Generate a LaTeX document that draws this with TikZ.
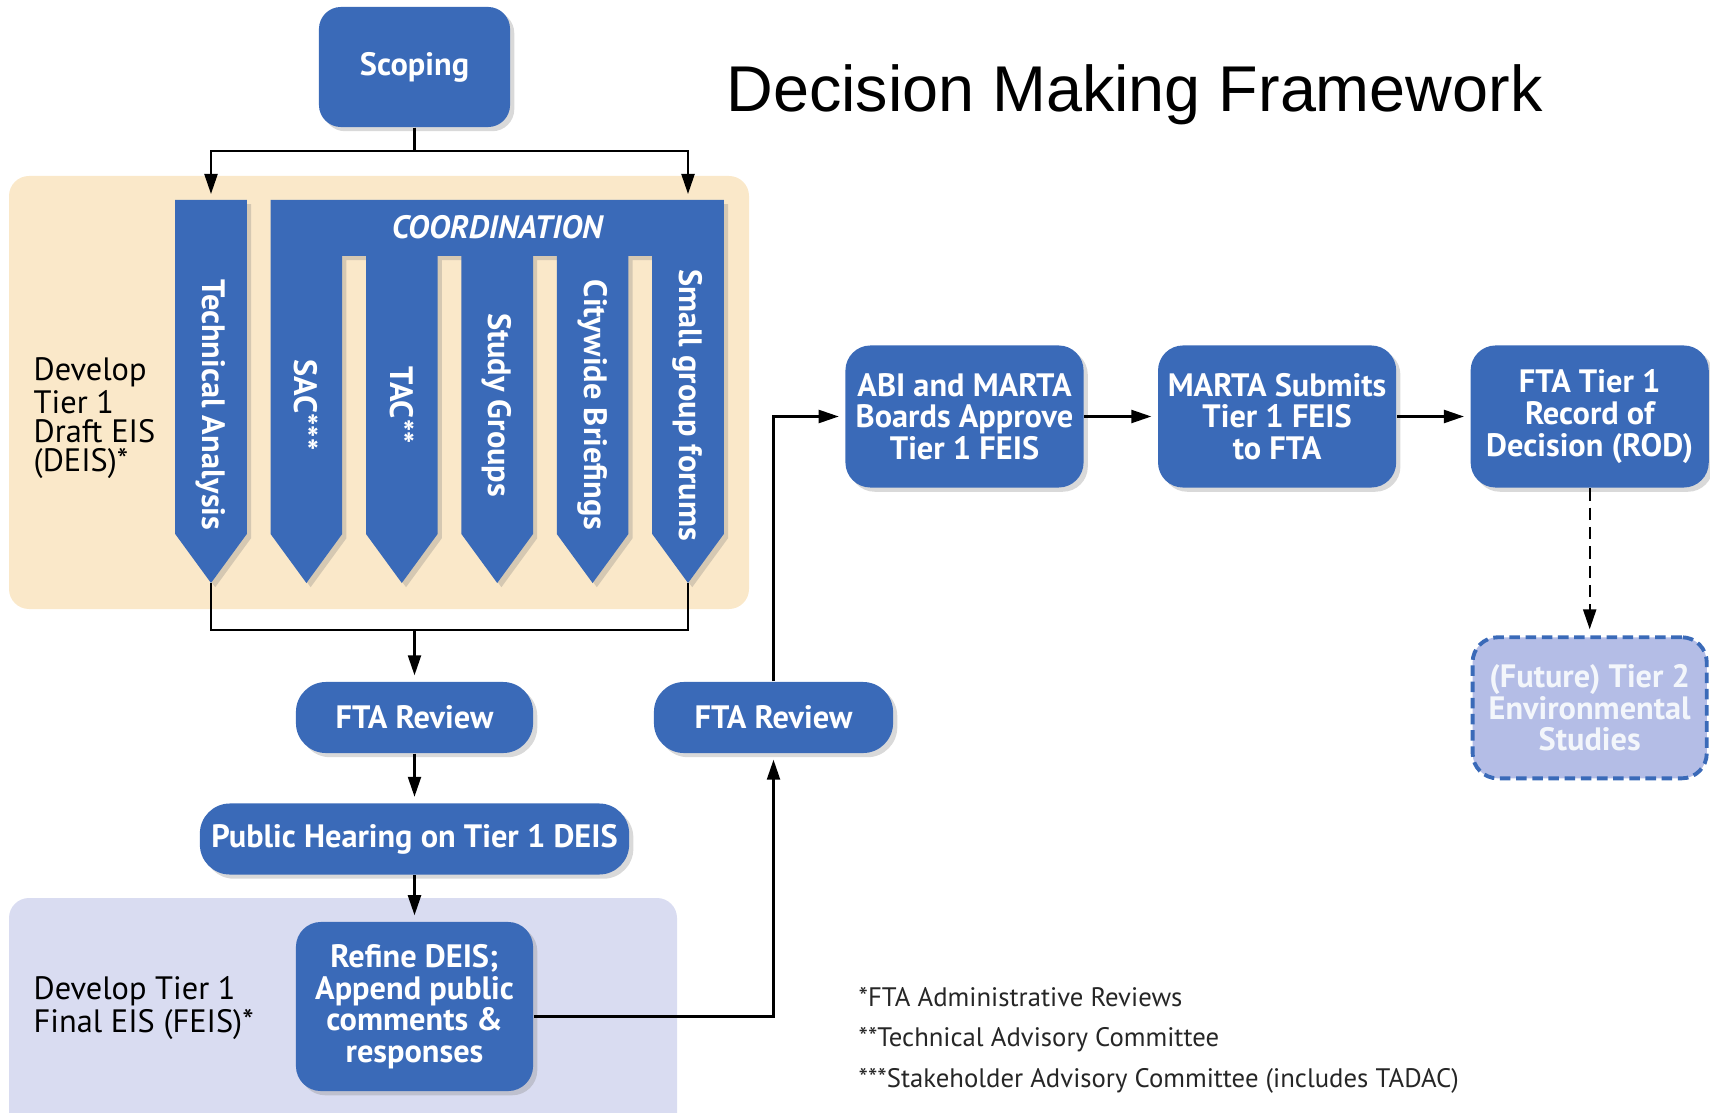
\documentclass[tikz,border=0pt]{standalone}
\usepackage{fontspec}
\setmainfont{PT Sans}
\newfontfamily\titlefont{Liberation Sans}
\usepackage{tikz}
\definecolor{planBlue}{RGB}{58, 106, 184}
\definecolor{draftTan}{RGB}{250, 232, 201}
\definecolor{finalLav}{RGB}{217, 220, 241}
\definecolor{futureLav}{RGB}{180, 189, 230}
\usetikzlibrary{arrows.meta, positioning, shadows}
\newcommand{\planfont}{\fontsize{9.2}{9}\selectfont\bfseries}

\begin{document}
\begin{tikzpicture}[
    x=0.01cm, y=-0.01cm,
    plainbox/.style={rectangle, rounded corners=0.25cm, fill=planBlue, text=white, font=\planfont, align=center, inner sep=0pt},
    blockbox/.style={plainbox, drop shadow={shadow xshift=1.2pt, shadow yshift=-1.2pt, opacity=0.3}},
    pillbox/.style={blockbox, rounded corners=0.3cm, minimum height=0.71cm},
    stagebox/.style={blockbox, minimum width=2.38cm, minimum height=1.42cm},
    colshape/.style={fill=planBlue, drop shadow={shadow xshift=1.2pt, shadow yshift=-1.2pt, opacity=0.3}},
    coltext/.style={rotate=-90, text=white, font=\planfont, inner sep=0pt},
    sidelabel/.style={anchor=west, align=left, inner sep=0pt, font=\fontsize{9.2}{8.3}\selectfont},
    link/.style={line width=0.65pt},
    arrow/.style={link, -{Triangle[length=0.2cm, width=0.13cm]}, shorten >=0.06cm}
]
    \useasboundingbox (0,0) rectangle (1710,1113);

    % phase backgrounds
    \fill[draftTan, rounded corners=0.2cm] (9,176) rectangle (749,609);
    \fill[finalLav, rounded corners=0.2cm] (9,898) rectangle (677,1140);

    % pencil columns
    \fill[colshape] (175.2,200) -- (246.8,200) -- (246.8,534) -- (211,583) -- (175.2,534) -- cycle;
    \fill[colshape] (270.6,200)
        \foreach \c in {306.4,401.8,497.2,592.6,688} { -- ({\c-35.8},256) -- ({\c-35.8},534) -- (\c,583) -- ({\c+35.8},534) -- ({\c+35.8},256) }
        -- (723.8,200) -- cycle;

    \node[text=white, font={\planfont\itshape}, inner sep=0pt] (coord) at (497.2,227) {COORDINATION};
    \node[coltext] (tech) at (211,405) {Technical Analysis};
    \node[coltext] (sac) at (306.4,405) {SAC***};
    \node[coltext] (tac) at (401.8,405) {TAC**};
    \node[coltext] (study) at (497.2,405) {Study Groups};
    \node[coltext] (citywide) at (592.6,405) {Citywide Briefings};
    \node[coltext] (smallgroup) at (688,405) {Small group forums};

    \coordinate (techtop) at (211,200);
    \coordinate (smalltop) at (688,200);
    \coordinate (techtip) at (211,583);
    \coordinate (smalltip) at (688,583);
    \coordinate (merge) at (414.5,630);

    % process boxes
    \node[blockbox, minimum width=1.91cm, minimum height=1.2cm, rounded corners=0.22cm] (scoping) at (414.5,67) {Scoping};
    \node[pillbox, minimum width=2.37cm] (review1) at (414.5,717.5) {FTA Review};
    \node[pillbox, minimum width=4.29cm] (hearing) at (414.5,839) {Public Hearing on Tier 1 DEIS};
    \node[blockbox, minimum width=2.37cm, minimum height=1.69cm] (refine) at (414.5,1006.5) {Refine DEIS;\\Append public\\comments \&\\responses};
    \node[pillbox, minimum width=2.39cm] (review2) at (773.5,717.5) {FTA Review};

    \node[stagebox] (approve) at (964.5,416.5) {ABI and MARTA\\Boards Approve\\Tier 1 FEIS};
    \node[stagebox, right=0.73cm of approve] (submit) {MARTA Submits\\Tier 1 FEIS\\to FTA};
    \node[stagebox, right=0.73cm of submit] (rod) {FTA Tier 1\\Record of\\Decision (ROD)};
    \node[plainbox, minimum width=2.34cm, minimum height=1.41cm, fill=futureLav, text=white!94!planBlue, draw=planBlue, line width=1.1pt, dash pattern=on 3pt off 1.6pt, below=1.47cm of rod] (future) {(Future) Tier 2\\Environmental\\Studies};

    % labels
    \node[font=\titlefont\fontsize{18.4}{22}\selectfont, anchor=base] (title) at (1134.5,112) {Decision Making Framework};
    \node[sidelabel] (draftlabel) at (33,418) {Develop\\Tier 1\\Draft EIS\\(DEIS)*};
    \node[sidelabel] (finallabel) at (33,1008) {Develop Tier 1\\Final EIS (FEIS)*};
    \node[anchor=west, align=left, inner sep=0pt, text=black!85, font=\fontsize{7.6}{11.5}\selectfont] (notes) at (858,1040) {*FTA Administrative Reviews\\**Technical Advisory Committee\\***Stakeholder Advisory Committee (includes TADAC)};

    % connectors
    \draw[arrow] (scoping.south) -- ++(0,23) -| (techtop);
    \draw[arrow] (scoping.south) -- ++(0,23) -| (smalltop);
    \draw[link] (techtip) -- ++(0,47) -| (smalltip);
    \draw[arrow] (merge) -- (review1);
    \draw[arrow] (review1) -- (hearing);
    \draw[arrow] (hearing) -- (refine);
    \draw[arrow] ([yshift=-0.1cm]refine.east) -| (review2);
    \draw[arrow] (review2) |- (approve);
    \draw[arrow] (approve) -- (submit);
    \draw[arrow] (submit) -- (rod);
    \draw[arrow, dash pattern=on 3.5pt off 2pt] (rod) -- (future);
\end{tikzpicture}
\end{document}
